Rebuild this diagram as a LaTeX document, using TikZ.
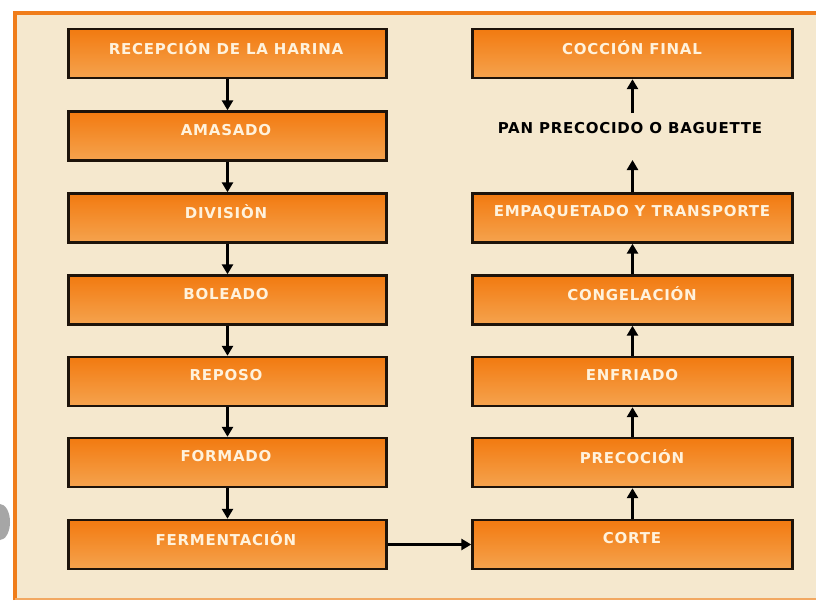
\documentclass[tikz,border=0pt]{standalone}
\usepackage{fontspec}
\setmainfont{DejaVu Sans}
\newfontfamily\boxfont[LetterSpace=5]{DejaVu Sans}
\usetikzlibrary{arrows.meta}
\definecolor{bgbeige}{HTML}{F5E8CE}
\definecolor{frameorange}{HTML}{F07D1A}
\definecolor{boxtop}{HTML}{F27A10}
\definecolor{boxbot}{HTML}{F5A34E}
\definecolor{boxtext}{HTML}{FFF2DC}
\tikzset{
  stepbox/.style={draw=black!85!brown, line width=2.4pt, top color=boxtop, bottom color=boxbot,
    minimum height=49pt, inner sep=0pt},
  leftbox/.style={stepbox, minimum width=318pt},
  rightbox/.style={stepbox, minimum width=320pt},
  boxlabel/.style={text=boxtext, font=\boxfont\fontsize{15}{15}\selectfont\bfseries, inner sep=0pt},
  flow/.style={line width=2.8pt, -{Triangle[length=10pt,width=11pt]}},
}
\begin{document}
\begin{tikzpicture}[x=1pt,y=-1pt]
\useasboundingbox (0,0) rectangle (816,600);
\fill[white] (0,0) rectangle (816,600);
% frame
\fill[bgbeige] (15,13) rectangle (816,600);
\draw[frameorange, line width=3.5pt] (15,600) -- (15,13) -- (816,13);
\draw[frameorange!60!bgbeige, line width=2pt] (15,598.5) -- (816,598.5);
% artifact at left edge
\fill[gray!70] (0,540) arc[start angle=90, end angle=-90, x radius=10, y radius=18] -- cycle;

% left column
\node[leftbox] (b1) at (227.5,53.5) {};
\node[leftbox] (b2) at (227.5,136) {};
\node[leftbox] (b3) at (227.5,218) {};
\node[leftbox] (b4) at (227.5,300) {};
\node[leftbox] (b5) at (227.5,381.5) {};
\node[leftbox] (b6) at (227.5,462.5) {};
\node[leftbox] (b7) at (227.5,544.5) {};
\node[boxlabel] (t1) at (226,47.5) {RECEPCIÓN DE LA HARINA};
\node[boxlabel] (t2) at (226,130) {AMASADO};
\node[boxlabel] (t3) at (226,212) {DIVISIÒN};
\node[boxlabel] (t4) at (226,294) {BOLEADO};
\node[boxlabel] (t5) at (226,375.5) {REPOSO};
\node[boxlabel] (t6) at (226,456.5) {FORMADO};
\node[boxlabel] (t7) at (226,538.5) {FERMENTACIÓN};

% right column
\node[rightbox] (r1) at (632.5,53.5) {};
\node[font=\boxfont\fontsize{15}{15}\selectfont\bfseries, text=black, inner sep=0pt] (pan) at (630,128) {PAN PRECOCIDO O BAGUETTE};
\node[rightbox] (r3) at (632.5,218) {};
\node[rightbox] (r4) at (632.5,300) {};
\node[rightbox] (r5) at (632.5,381.5) {};
\node[rightbox] (r6) at (632.5,462.5) {};
\node[rightbox] (r7) at (632.5,544.5) {};
\node[boxlabel] (s1) at (632,47.5) {COCCIÓN FINAL};
\node[boxlabel] (s3) at (632,212) {EMPAQUETADO Y TRANSPORTE};
\node[boxlabel] (s4) at (632,294) {CONGELACIÓN};
\node[boxlabel] (s5) at (632,375.5) {ENFRIADO};
\node[boxlabel] (s6) at (632,456.5) {PRECOCIÓN};
\node[boxlabel] (s7) at (632,538.5) {CORTE};
\coordinate (panbot) at (632.5,160);
\coordinate (pantop) at (632.5,113);

% arrows left
\draw[flow] (b1.south) -- (b2.north);
\draw[flow] (b2.south) -- (b3.north);
\draw[flow] (b3.south) -- (b4.north);
\draw[flow] (b4.south) -- (b5.north);
\draw[flow] (b5.south) -- (b6.north);
\draw[flow] (b6.south) -- (b7.north);
% across
\draw[flow] (b7.east) -- (r7.west);
% arrows right
\draw[flow] (r7.north) -- (r6.south);
\draw[flow] (r6.north) -- (r5.south);
\draw[flow] (r5.north) -- (r4.south);
\draw[flow] (r4.north) -- (r3.south);
\draw[flow] (r3.north) -- (panbot);
\draw[flow] (pantop) -- (r1.south);
\end{tikzpicture}
\end{document}
